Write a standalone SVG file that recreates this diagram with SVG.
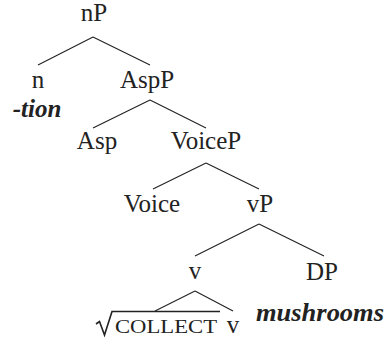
<svg xmlns="http://www.w3.org/2000/svg" width="388" height="339" viewBox="0 0 388 339">
<style>
.t text{font-size:25px;fill:#222;text-anchor:middle}
.t .bi{font-weight:bold;font-style:italic}
.t .sc{font-size:19px;text-anchor:start}
.e{stroke:#222;stroke-width:1.1;fill:none}
</style>
<rect width="388" height="339" fill="#fff"/>
<g id="connectors">
<path class="e" d="M93,37L38,65M93,37L150,65"/>
<path class="e" d="M150,100L93,128M150,100L206,128"/>
<path class="e" d="M206,163L153,189M206,163L259,189"/>
<path class="e" d="M259,224L195,256M259,224L324,256"/>
<path class="e" d="M195,291L155,311M195,291L233,311"/>
</g>
<g class="t" font-family="Liberation Serif, DejaVu Serif, serif">
<g id="nP"><text x="94" y="21">nP</text></g>
<g id="n"><text x="38" y="88">n</text><text class="bi" x="37" y="117">-tion</text></g>
<g id="AspP"><text x="147" y="88">AspP</text></g>
<g id="Asp"><text x="97" y="149">Asp</text></g>
<g id="VoiceP"><text x="206" y="149">VoiceP</text></g>
<g id="Voice"><text x="152" y="212">Voice</text></g>
<g id="vP"><text x="260" y="212">vP</text></g>
<g id="v"><text x="195" y="279">v</text></g>
<g id="DP"><text x="322" y="280">DP</text><text class="bi" x="320" y="321" textLength="128" lengthAdjust="spacingAndGlyphs">mushrooms</text></g>
<g id="root"><path d="M96,324L99.5,321.5L104.5,335L112,311.5H220" fill="none" stroke="#222" stroke-width="1.6"/><text class="sc" x="115" y="333" textLength="102" lengthAdjust="spacingAndGlyphs">COLLECT</text></g>
<g id="v2"><text x="233" y="333">v</text></g>
</g>
</svg>
